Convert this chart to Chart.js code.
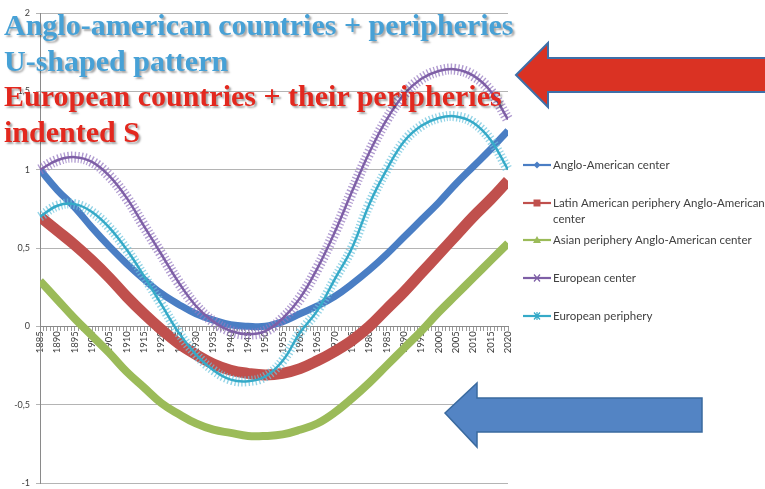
<!DOCTYPE html>
<html>
<head>
<meta charset="utf-8">
<script src="https://cdn.jsdelivr.net/npm/chart.js@4/dist/chart.umd.min.js"></script>
<style>
  html, body { margin: 0; padding: 0; background: #fff; }
  #wrap { position: relative; width: 765px; height: 489px; overflow: hidden; }
  #chart { position: absolute; left: 0; top: 0; }
  .title {
    position: absolute; left: 4px; top: 7px; margin: 0;
    font-family: "Liberation Serif", serif; font-weight: bold;
    font-size: 30px; line-height: 35.5px; white-space: nowrap;
    text-shadow: 2px 2px 2px rgba(0,0,0,0.35);
  }
  .title .blue { color: #47a1d6; }
  .title .red { color: #e3281e; }
  svg { position: absolute; left: 0; top: 0; }
</style>
</head>
<body>
<div id="wrap">
  <canvas id="chart" width="765" height="489"></canvas>
  <div class="title">
    <div class="blue">Anglo-american countries + peripheries</div>
    <div class="blue">U-shaped pattern</div>
    <div class="red">European countries + their peripheries</div>
    <div class="red">indented S</div>
  </div>
  <svg width="765" height="489">
    <polygon points="516,75 548,43 548,58 770,58 770,92 548,92 548,107" fill="#da3223" stroke="#3e6fa8" stroke-width="2"/>
    <polygon points="445,413 477,383 477,398 702,398 702,432 477,432 477,447" fill="#5384c4" stroke="#3a6a9f" stroke-width="1.5"/>
  </svg>
</div>
<script>
// data, read every 5 years
const years = [1885, 1890, 1895, 1900, 1905, 1910, 1915, 1920, 1925, 1930, 1935, 1940, 1945, 1950,
               1955, 1960, 1965, 1970, 1975, 1980, 1985, 1990, 1995, 2000, 2005, 2010, 2015, 2020];
const angloCenter = [1.00, 0.87, 0.76, 0.63, 0.51, 0.40, 0.30, 0.21, 0.14, 0.08, 0.04, 0.01, 0.00, 0.00,
                     0.03, 0.08, 0.13, 0.19, 0.27, 0.36, 0.46, 0.57, 0.68, 0.79, 0.91, 1.02, 1.13, 1.25];
const latinPeriphery = [0.70, 0.61, 0.52, 0.42, 0.31, 0.19, 0.08, -0.02, -0.11, -0.18, -0.24, -0.28, -0.30, -0.31,
                        -0.30, -0.27, -0.22, -0.16, -0.09, 0.00, 0.11, 0.22, 0.34, 0.46, 0.58, 0.70, 0.81, 0.93];
const asianPeriphery = [0.29, 0.17, 0.05, -0.06, -0.17, -0.29, -0.39, -0.49, -0.56, -0.62, -0.66, -0.68, -0.70, -0.70,
                        -0.69, -0.66, -0.62, -0.55, -0.46, -0.36, -0.25, -0.14, -0.03, 0.09, 0.20, 0.31, 0.42, 0.53];
const europeanCenter = [1.00, 1.06, 1.08, 1.05, 0.96, 0.82, 0.64, 0.46, 0.28, 0.13, 0.03, -0.03, -0.05, -0.03,
                        0.05, 0.18, 0.37, 0.60, 0.86, 1.11, 1.32, 1.48, 1.58, 1.63, 1.64, 1.60, 1.50, 1.32];
const europeanPeriphery = [0.70, 0.77, 0.78, 0.73, 0.63, 0.49, 0.32, 0.14, -0.04, -0.18, -0.28, -0.34, -0.35, -0.32,
                           -0.22, -0.04, 0.10, 0.30, 0.50, 0.78, 1.00, 1.18, 1.28, 1.33, 1.34, 1.30, 1.19, 1.00];
const seriesNames = ['Anglo-American center', 'Latin American periphery Anglo-American center',
                     'Asian periphery Anglo-American center', 'European center', 'European periphery'];

function pts(arr) {
    return years.map((yr, i) => ({x: yr, y: arr[i]}));
}

Chart.defaults.font.family = 'Lato';
Chart.defaults.color = '#404040';

// light hatch drawn under the thin lines (the dense x / star markers)
const fringePlugin = {
    id: 'fringe',
    beforeDatasetDraw(chart, args) {
        const ds = chart.data.datasets[args.index];
        if (!ds.fringe) return;
        const ctx = chart.ctx;
        const line = args.meta.dataset;
        ctx.save();
        ctx.beginPath();
        line.path(ctx);
        ctx.setLineDash([1.3, 2.1]);
        ctx.lineWidth = ds.fringe.width;
        ctx.strokeStyle = ds.fringe.color;
        ctx.stroke();
        ctx.restore();
    }
};

function marker(ctx, style, x, y, color) {
    ctx.save();
    ctx.fillStyle = color;
    ctx.strokeStyle = color;
    ctx.lineWidth = 1.2;
    ctx.beginPath();
    if (style === 'diamond') {
        ctx.moveTo(x, y - 3.5); ctx.lineTo(x + 3.5, y); ctx.lineTo(x, y + 3.5); ctx.lineTo(x - 3.5, y);
        ctx.closePath(); ctx.fill();
    } else if (style === 'square') {
        ctx.rect(x - 3.5, y - 3.5, 7, 7); ctx.fill();
    } else if (style === 'triangle') {
        ctx.moveTo(x, y - 4); ctx.lineTo(x + 4, y + 3); ctx.lineTo(x - 4, y + 3);
        ctx.closePath(); ctx.fill();
    } else if (style === 'cross') {
        ctx.moveTo(x - 3, y - 3.5); ctx.lineTo(x + 3, y + 3.5);
        ctx.moveTo(x + 3, y - 3.5); ctx.lineTo(x - 3, y + 3.5);
        ctx.stroke();
    } else {
        ctx.moveTo(x - 3, y - 3.5); ctx.lineTo(x + 3, y + 3.5);
        ctx.moveTo(x + 3, y - 3.5); ctx.lineTo(x - 3, y + 3.5);
        ctx.moveTo(x, y - 4); ctx.lineTo(x, y + 4);
        ctx.stroke();
    }
    ctx.restore();
}

// legend at the right, as in the excel picture
const sideLegend = {
    id: 'sideLegend',
    afterDraw(chart) {
        const ctx = chart.ctx;
        const rows = [[165], [203, 219], [240], [278], [316]];
        const styles = ['diamond', 'square', 'triangle', 'cross', 'star'];
        const texts = [[seriesNames[0]], ['Latin American periphery Anglo-American', 'center'],
                       [seriesNames[2]], [seriesNames[3]], [seriesNames[4]]];
        ctx.save();
        chart.data.datasets.forEach((ds, i) => {
            const y = rows[i][0];
            ctx.strokeStyle = ds.borderColor;
            ctx.lineWidth = 2.2;
            ctx.beginPath();
            ctx.moveTo(523, y);
            ctx.lineTo(551, y);
            ctx.stroke();
            marker(ctx, styles[i], 537, y, ds.borderColor);
            ctx.fillStyle = '#404040';
            ctx.font = '11.5px Lato';
            ctx.textBaseline = 'middle';
            texts[i].forEach((t, k) => ctx.fillText(t, 553, rows[i][k]));
        });
        ctx.restore();
    }
};

const ctx = document.getElementById('chart').getContext('2d');
const chart = new Chart(ctx, {
    type: 'line',
    data: {
        datasets: [
            {label: seriesNames[0], data: pts(angloCenter), borderColor: '#4a7ec4', borderWidth: 7, order: 5},
            {label: seriesNames[1], data: pts(latinPeriphery), borderColor: '#c0504d', borderWidth: 11, order: 4},
            {label: seriesNames[2], data: pts(asianPeriphery), borderColor: '#9bbb59', borderWidth: 8, order: 3},
            {label: seriesNames[3], data: pts(europeanCenter), borderColor: '#7e5fa6', borderWidth: 2.5, order: 2,
             fringe: {width: 11, color: 'rgba(150,122,192,0.75)'}},
            {label: seriesNames[4], data: pts(europeanPeriphery), borderColor: '#35aac8', borderWidth: 2.5, order: 1,
             fringe: {width: 10, color: 'rgba(110,196,222,0.75)'}}
        ]
    },
    options: {
        responsive: false,
        animation: false,
        layout: {padding: {left: 0, right: 257, top: 13, bottom: 6}},
        elements: {
            point: {radius: 0, hoverRadius: 0},
            line: {tension: 0.4, fill: false}
        },
        plugins: {
            legend: {display: false},
            tooltip: {enabled: false}
        },
        scales: {
            x: {
                type: 'linear',
                position: {y: 0},
                min: 1885,
                max: 2020,
                afterFit: (s) => { s.height = 0; s.paddingTop = 0; s.paddingBottom = 0; },
                grid: {drawOnChartArea: false, tickLength: 4, color: '#9a9a9a'},
                border: {color: '#8a8a8a'},
                ticks: {
                    stepSize: 1,
                    autoSkip: false,
                    minRotation: 90,
                    maxRotation: 90,
                    padding: 1,
                    font: {size: 9.5},
                    callback: (v) => (v % 5 === 0 ? String(v) : '')
                }
            },
            y: {
                min: -1,
                max: 2,
                afterFit: (s) => { s.width = 40; s.paddingTop = 0; s.paddingBottom = 0; },
                grid: {color: '#b4b4b4', tickLength: 4},
                border: {color: '#8a8a8a'},
                ticks: {
                    stepSize: 0.5,
                    padding: 6,
                    font: {size: 9},
                    callback: (v) => String(v).replace('.', ',')
                }
            }
        }
    },
    plugins: [fringePlugin, sideLegend]
});
</script>
</body>
</html>
